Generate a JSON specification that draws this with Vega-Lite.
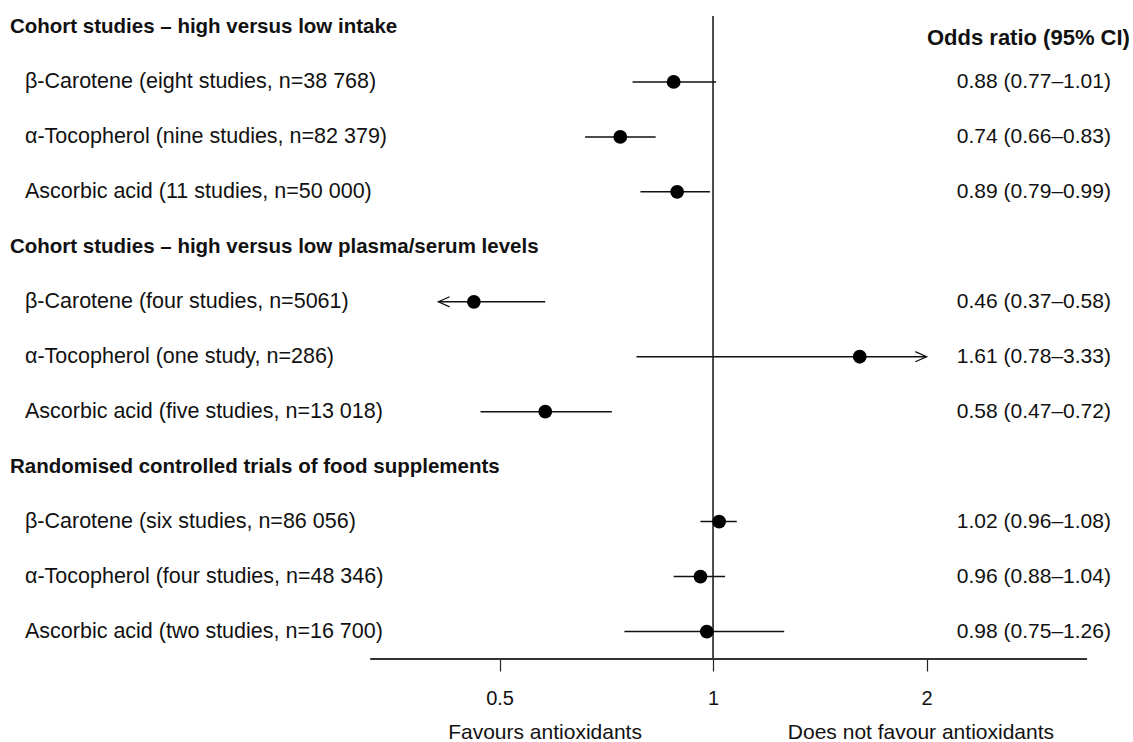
{
  "$schema": "https://vega.github.io/schema/vega-lite/v6.json",
  "width": 1133,
  "height": 643,
  "autosize": {"type": "none"},
  "padding": {"left": 0, "right": 0, "top": 16, "bottom": 83},
  "background": "white",
  "config": {"view": {"stroke": null}, "font": "Liberation Sans"},
  "datasets": {
    "studies": [
      {"slot": 1, "label": "β-Carotene (eight studies, n=38 768)", "or": 0.88, "lo": 0.77, "hi": 1.01, "lineLo": 0.77, "lineHi": 1.01, "arrow": "", "ci": "0.88 (0.77–1.01)"},
      {"slot": 2, "label": "α-Tocopherol (nine studies, n=82 379)", "or": 0.74, "lo": 0.66, "hi": 0.83, "lineLo": 0.66, "lineHi": 0.83, "arrow": "", "ci": "0.74 (0.66–0.83)"},
      {"slot": 3, "label": "Ascorbic acid (11 studies, n=50 000)", "or": 0.89, "lo": 0.79, "hi": 0.99, "lineLo": 0.79, "lineHi": 0.99, "arrow": "", "ci": "0.89 (0.79–0.99)"},
      {"slot": 5, "label": "β-Carotene (four studies, n=5061)", "or": 0.46, "lo": 0.37, "hi": 0.58, "lineLo": 0.41, "lineHi": 0.58, "arrow": "left", "ci": "0.46 (0.37–0.58)"},
      {"slot": 6, "label": "α-Tocopherol (one study, n=286)", "or": 1.61, "lo": 0.78, "hi": 3.33, "lineLo": 0.78, "lineHi": 2.0, "arrow": "right", "ci": "1.61 (0.78–3.33)"},
      {"slot": 7, "label": "Ascorbic acid (five studies, n=13 018)", "or": 0.58, "lo": 0.47, "hi": 0.72, "lineLo": 0.47, "lineHi": 0.72, "arrow": "", "ci": "0.58 (0.47–0.72)"},
      {"slot": 9, "label": "β-Carotene (six studies, n=86 056)", "or": 1.02, "lo": 0.96, "hi": 1.08, "lineLo": 0.96, "lineHi": 1.08, "arrow": "", "ci": "1.02 (0.96–1.08)"},
      {"slot": 10, "label": "α-Tocopherol (four studies, n=48 346)", "or": 0.96, "lo": 0.88, "hi": 1.04, "lineLo": 0.88, "lineHi": 1.04, "arrow": "", "ci": "0.96 (0.88–1.04)"},
      {"slot": 11, "label": "Ascorbic acid (two studies, n=16 700)", "or": 0.98, "lo": 0.75, "hi": 1.26, "lineLo": 0.75, "lineHi": 1.26, "arrow": "", "ci": "0.98 (0.75–1.26)"}
    ],
    "headings": [
      {"slot": 0, "title": "Cohort studies – high versus low intake"},
      {"slot": 4, "title": "Cohort studies – high versus low plasma/serum levels"},
      {"slot": 8, "title": "Randomised controlled trials of food supplements"}
    ]
  },
  "layer": [
    {
      "data": {"values": [{}]},
      "mark": {"type": "rule", "stroke": "#111", "strokeWidth": 1.5},
      "encoding": {
        "x": {"datum": 1, "type": "quantitative", "scale": {"type": "log", "domain": [0.09876, 3.91], "nice": false},
          "axis": {"values": [0.5, 1, 2], "format": "~g", "domain": false, "grid": false, "ticks": true, "labels": true, "tickSize": 12, "tickColor": "#222", "tickWidth": 1.2, "labelFontSize": 20, "labelPadding": 17, "labelColor": "#111", "labelFont": "Liberation Sans", "labelFlush": false, "labelOverlap": false, "title": null}}
      }
    },
    {
      "data": {"values": [{}]},
      "mark": {"type": "rule", "stroke": "#333", "strokeWidth": 2},
      "encoding": {
        "x": {"datum": 0.3285, "type": "quantitative", "scale": {"type": "log", "domain": [0.09876, 3.91], "nice": false}},
        "x2": {"datum": 3.368},
        "y": {"datum": 11.5, "type": "quantitative", "scale": {"domain": [-0.2, 11.5], "reverse": true, "nice": false, "zero": false}, "axis": null}
      }
    },
    {
      "data": {"name": "studies"},
      "mark": {"type": "rule", "stroke": "#111", "strokeWidth": 1.5},
      "encoding": {
        "x": {"field": "lineLo", "type": "quantitative", "scale": {"type": "log", "domain": [0.09876, 3.91], "nice": false}},
        "x2": {"field": "lineHi"},
        "y": {"field": "slot", "type": "quantitative", "scale": {"domain": [-0.2, 11.5], "reverse": true, "nice": false, "zero": false}, "axis": null}
      }
    },
    {
      "data": {"name": "studies"},
      "mark": {"type": "circle", "color": "#000", "opacity": 1, "size": 190},
      "encoding": {
        "x": {"field": "or", "type": "quantitative", "scale": {"type": "log", "domain": [0.09876, 3.91], "nice": false}},
        "y": {"field": "slot", "type": "quantitative", "scale": {"domain": [-0.2, 11.5], "reverse": true, "nice": false, "zero": false}, "axis": null}
      }
    },
    {
      "data": {"name": "studies"},
      "transform": [{"filter": "datum.arrow === 'left'"}],
      "mark": {"type": "point", "shape": "M1,-0.45L0,0L1,0.45", "filled": false, "stroke": "#111", "strokeWidth": 1.3, "opacity": 1, "size": 500},
      "encoding": {
        "x": {"field": "lineLo", "type": "quantitative", "scale": {"type": "log", "domain": [0.09876, 3.91], "nice": false}},
        "y": {"field": "slot", "type": "quantitative", "scale": {"domain": [-0.2, 11.5], "reverse": true, "nice": false, "zero": false}, "axis": null}
      }
    },
    {
      "data": {"name": "studies"},
      "transform": [{"filter": "datum.arrow === 'right'"}],
      "mark": {"type": "point", "shape": "M-1,-0.45L0,0L-1,0.45", "filled": false, "stroke": "#111", "strokeWidth": 1.3, "opacity": 1, "size": 500},
      "encoding": {
        "x": {"field": "lineHi", "type": "quantitative", "scale": {"type": "log", "domain": [0.09876, 3.91], "nice": false}},
        "y": {"field": "slot", "type": "quantitative", "scale": {"domain": [-0.2, 11.5], "reverse": true, "nice": false, "zero": false}, "axis": null}
      }
    },
    {
      "data": {"name": "studies"},
      "mark": {"type": "text", "align": "left", "baseline": "middle", "fontSize": 21.5, "color": "#111", "font": "Liberation Sans"},
      "encoding": {
        "x": {"datum": 0.1071, "type": "quantitative", "scale": {"type": "log", "domain": [0.09876, 3.91], "nice": false}},
        "y": {"field": "slot", "type": "quantitative", "scale": {"domain": [-0.2, 11.5], "reverse": true, "nice": false, "zero": false}, "axis": null},
        "text": {"field": "label"}
      }
    },
    {
      "data": {"name": "studies"},
      "mark": {"type": "text", "align": "right", "baseline": "middle", "fontSize": 21, "color": "#111", "font": "Liberation Sans"},
      "encoding": {
        "x": {"datum": 3.64, "type": "quantitative", "scale": {"type": "log", "domain": [0.09876, 3.91], "nice": false}},
        "y": {"field": "slot", "type": "quantitative", "scale": {"domain": [-0.2, 11.5], "reverse": true, "nice": false, "zero": false}, "axis": null},
        "text": {"field": "ci"}
      }
    },
    {
      "data": {"name": "headings"},
      "mark": {"type": "text", "align": "left", "baseline": "middle", "fontSize": 20.5, "fontWeight": "bold", "color": "#111", "font": "Liberation Sans"},
      "encoding": {
        "x": {"datum": 0.102, "type": "quantitative", "scale": {"type": "log", "domain": [0.09876, 3.91], "nice": false}},
        "y": {"field": "slot", "type": "quantitative", "scale": {"domain": [-0.2, 11.5], "reverse": true, "nice": false, "zero": false}, "axis": null},
        "text": {"field": "title"}
      }
    },
    {
      "data": {"values": [{"t": "Odds ratio (95% CI)"}]},
      "mark": {"type": "text", "align": "right", "baseline": "middle", "fontSize": 22, "fontWeight": "bold", "color": "#111", "font": "Liberation Sans"},
      "encoding": {
        "x": {"datum": 3.871, "type": "quantitative", "scale": {"type": "log", "domain": [0.09876, 3.91], "nice": false}},
        "y": {"datum": 0.2, "type": "quantitative", "scale": {"domain": [-0.2, 11.5], "reverse": true, "nice": false, "zero": false}, "axis": null},
        "text": {"field": "t"}
      }
    },
    {
      "data": {"values": [{"t": "Favours antioxidants"}]},
      "mark": {"type": "text", "align": "center", "baseline": "middle", "fontSize": 21, "color": "#111", "font": "Liberation Sans"},
      "encoding": {
        "x": {"datum": 0.5796, "type": "quantitative", "scale": {"type": "log", "domain": [0.09876, 3.91], "nice": false}},
        "y": {"datum": 12.85, "type": "quantitative", "scale": {"domain": [-0.2, 11.5], "reverse": true, "nice": false, "zero": false}, "axis": null},
        "text": {"field": "t"}
      }
    },
    {
      "data": {"values": [{"t": "Does not favour antioxidants"}]},
      "mark": {"type": "text", "align": "center", "baseline": "middle", "fontSize": 21, "color": "#111", "font": "Liberation Sans"},
      "encoding": {
        "x": {"datum": 1.964, "type": "quantitative", "scale": {"type": "log", "domain": [0.09876, 3.91], "nice": false}},
        "y": {"datum": 12.85, "type": "quantitative", "scale": {"domain": [-0.2, 11.5], "reverse": true, "nice": false, "zero": false}, "axis": null},
        "text": {"field": "t"}
      }
    }
  ]
}
